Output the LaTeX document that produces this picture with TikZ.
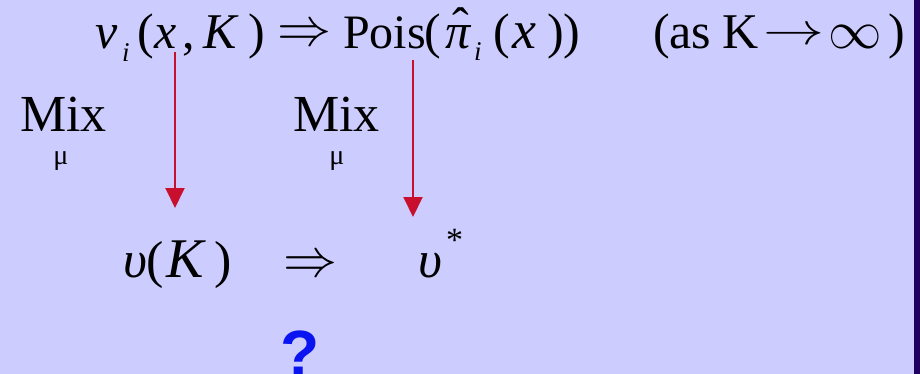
\documentclass[tikz,border=0pt]{standalone}
\usepackage{fontspec}
\setmainfont{Liberation Serif}
\newfontfamily\qfont{Liberation Sans}
\usetikzlibrary{arrows.meta}
\definecolor{bg}{RGB}{204,204,255}
\definecolor{strip}{RGB}{31,0,96}
\definecolor{arr}{RGB}{200,16,46}
\definecolor{qblue}{RGB}{10,20,240}
\tikzset{
  txt/.style={inner sep=0pt, outer sep=0pt, anchor=base west, text=black},
  topt/.style={txt, font=\fontsize{48}{52}\selectfont},
  topv/.style={txt, font=\fontsize{50}{55}\selectfont},
  bigt/.style={txt, font=\fontsize{52}{58}\selectfont},
  bigv/.style={txt, font=\fontsize{56}{60}\selectfont},
  subt/.style={txt, font=\fontsize{27}{30}\selectfont},
  mut/.style={inner sep=0pt, outer sep=0pt, anchor=base, text=black, font=\fontsize{28}{30}\selectfont},
  hatt/.style={inner sep=0pt, outer sep=0pt, anchor=base, text=black, font=\fontsize{50}{55}\selectfont},
  impl/.style={inner sep=0pt, outer sep=0pt, anchor=center, text=black, font=\fontsize{24.88}{28}\selectfont},
  mixarrow/.style={draw=arr, line width=2pt, -{Triangle[width=19pt,length=20pt]}},
  qmark/.style={inner sep=0pt, outer sep=0pt, anchor=base, text=qblue, font=\fontsize{64}{70}\qfont\bfseries},
}
\begin{document}
\begin{tikzpicture}[x=1pt,y=-1pt]
\fill[bg] (0,0) rectangle (920,374);
\fill[strip] (914,0) rectangle (920,374);
\useasboundingbox (0,0) rectangle (920,374);

% top line
\node[topv] (nu) at (95,49) {\itshape ν};
\node[subt] (nui) at (122,62) {\itshape i};
\node[topv] (lp1) at (137,49) {(};
\node[topv] (x1) at (154,49) {\itshape x};
\node[topv] (cm) at (182,49) {,};
\node[topv] (K1) at (203,49) {\itshape K};
\node[topv] (rp1) at (248,49) {)};
\node[impl] (imp1) at (304.5,36) {\scalebox{2.17}{$\Rightarrow$}};
\node[topt] (pois) at (343,49) {Pois};
\node[topv] (lp0) at (424,49) {(};
\node[topv] (pi) at (445,49) {\itshape π};
\node[hatt] (pihat) at (461,43) {ˆ};
\node[subt] (pii) at (474,61) {\itshape i};
\node[topv] (lp2) at (493,49) {(};
\node[topv, font=\fontsize{54}{58}\selectfont] (x2) at (512,49) {\itshape x};
\node[topv] (rp2) at (547,49) {))};
\node[topv] (as) at (653,49) {(as};
\node[topv] (K2) at (722,49) {K};
\node[impl] (to) at (794,36) {\scalebox{2.45}[1.8]{$\rightarrow$}};
\node[impl] (inf) at (855.5,37) {\scalebox{2.15}{$\infty$}};
\node[topv] (rp3) at (888,49) {)};

% Mix labels
\node[bigt] (mix1) at (20,132) {Mix};
\node[mut] (mu1) at (61,165) {μ};
\node[bigt] (mix2) at (293,132) {Mix};
\node[mut] (mu2) at (337,165) {μ};

% bottom line
\node[bigt] (ups) at (123,277) {\itshape υ};
\node[bigt] (lpb) at (146,277) {(};
\node[bigv] (Kb) at (166,277) {\itshape K};
\node[bigt] (rpb) at (214,277) {)};
\node[impl] (imp2) at (310.5,267) {\scalebox{2.17}{$\Rightarrow$}};
\node[bigt] (ups2) at (418,277) {\itshape υ};
\node[mut, anchor=center, font=\fontsize{34}{36}\selectfont] (star) at (454.5,240) {*};

% question mark
\node[qmark] (q) at (300.5,375) {?};

% arrows
\coordinate (a1s) at (175,52);
\coordinate (a1e) at (175,208);
\coordinate (a2s) at (413,60);
\coordinate (a2e) at (413,217);
\draw[mixarrow] (a1s) -- (a1e);
\draw[mixarrow] (a2s) -- (a2e);
\end{tikzpicture}
\end{document}
